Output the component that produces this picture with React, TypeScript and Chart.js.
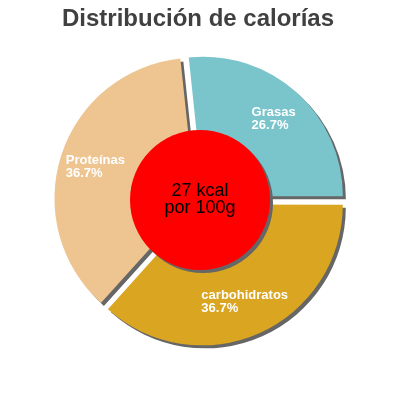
import { useEffect, useRef } from "react"
import { Chart, registerables } from "chart.js"

Chart.register(...registerables)

const FONT = "'Liberation Sans', Arial, sans-serif"

const labels = ["Grasas", "carbohidratos", "Proteínas"]
const percents = [26.7, 36.7, 36.7]
const sliceColors = ["#7ac4cc", "#daa520", "#eec591"]
const title = "Distribución de calorías"
const centerLines = ["27 kcal", "por 100g"]

// shadow under the slices
const shadowPlugin = {
  id: "sliceShadow",
  beforeDatasetsDraw(chart: Chart) {
    const ctx = chart.ctx
    const dpr = chart.currentDevicePixelRatio || 1
    ctx.save()
    ctx.shadowColor = "#666666"
    ctx.shadowBlur = 0
    ctx.shadowOffsetX = 3 * dpr
    ctx.shadowOffsetY = 3 * dpr
  },
  afterDatasetsDraw(chart: Chart) {
    chart.ctx.restore()
  },
}

// labels, center disc and title
const overlayPlugin = {
  id: "overlay",
  afterDraw(chart: Chart) {
    const ctx = chart.ctx
    const dpr = chart.currentDevicePixelRatio || 1
    const meta = chart.getDatasetMeta(0)
    const cx = (chart.chartArea.left + chart.chartArea.right) / 2
    const cy = (chart.chartArea.top + chart.chartArea.bottom) / 2

    ctx.save()
    ctx.font = `bold 13px ${FONT}`
    ctx.fillStyle = "#ffffff"
    ctx.textAlign = "left"
    ctx.textBaseline = "alphabetic"
    meta.data.forEach((el: any, i: number) => {
      const mid = (el.startAngle + el.endAngle) / 2
      const lx = cx + Math.cos(mid) * 110
      const ly = cy + Math.sin(mid) * 110
      const l1 = labels[i]
      const l2 = percents[i].toFixed(1) + "%"
      const w = Math.max(ctx.measureText(l1).width, ctx.measureText(l2).width)
      const left = lx - w / 2
      ctx.fillText(l1, left, ly - 2)
      ctx.fillText(l2, left, ly + 11)
    })
    ctx.restore()

    ctx.save()
    ctx.shadowColor = "#666666"
    ctx.shadowBlur = 0
    ctx.shadowOffsetX = 3 * dpr
    ctx.shadowOffsetY = 3 * dpr
    ctx.fillStyle = "#ff0000"
    ctx.beginPath()
    ctx.arc(cx, cy, 70, 0, Math.PI * 2)
    ctx.fill()
    ctx.restore()

    ctx.save()
    ctx.fillStyle = "#000000"
    ctx.font = `18px ${FONT}`
    ctx.textAlign = "center"
    ctx.textBaseline = "alphabetic"
    ctx.fillText(centerLines[0], cx, cy - 4)
    ctx.fillText(centerLines[1], cx, cy + 13)

    ctx.fillStyle = "#404040"
    ctx.font = `bold 24px ${FONT}`
    ctx.fillText(title, 198, 26)
    ctx.restore()
  },
}

export default function App() {
  const chartRef = useRef<HTMLCanvasElement>(null)
  const chartInstance = useRef<Chart | null>(null)

  useEffect(() => {
    document.body.style.margin = "0"
    if (!chartRef.current) return
    if (chartInstance.current) chartInstance.current.destroy()

    chartInstance.current = new Chart(chartRef.current, {
      type: "pie",
      data: {
        labels,
        datasets: [
          {
            data: percents,
            backgroundColor: sliceColors,
            borderWidth: 0,
            offset: 20,
            hoverOffset: 0,
          },
        ],
      },
      options: {
        responsive: false,
        animation: false,
        rotation: -6,
        radius: 139.5,
        layout: { padding: 0 },
        events: [],
        plugins: {
          legend: { display: false },
          tooltip: { enabled: false },
          title: { display: false },
        },
      },
      plugins: [shadowPlugin, overlayPlugin],
    })

    return () => {
      if (chartInstance.current) {
        chartInstance.current.destroy()
        chartInstance.current = null
      }
    }
  }, [])

  return (
    <div style={{ width: 400, height: 400 }}>
      <canvas ref={chartRef} width={400} height={400} style={{ display: "block" }}></canvas>
    </div>
  )
}
